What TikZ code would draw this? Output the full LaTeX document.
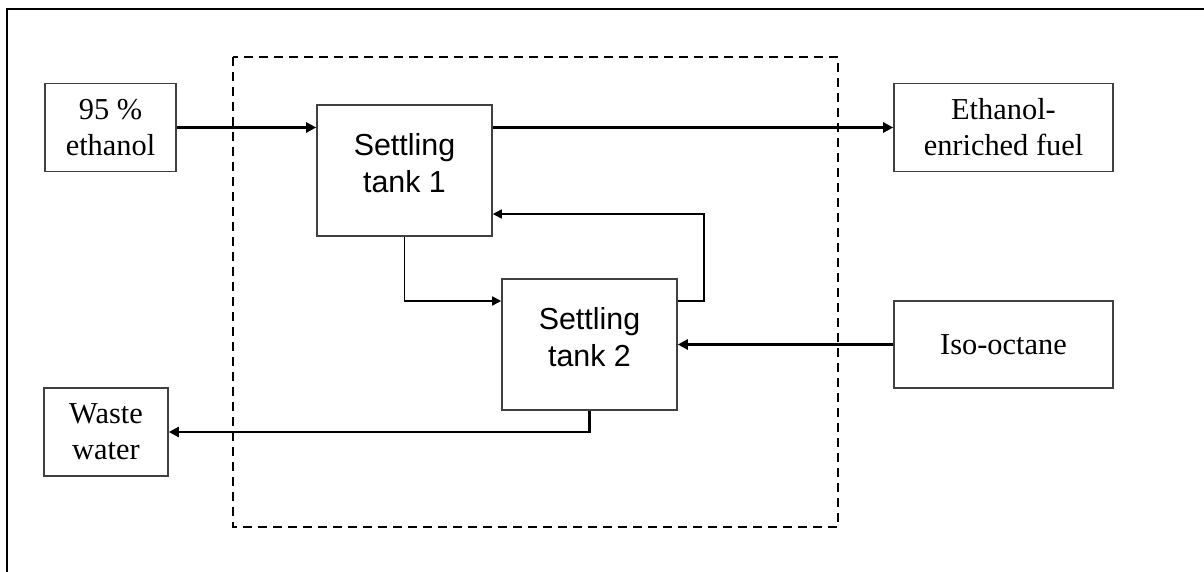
\documentclass[tikz,border=0pt]{standalone}
\usepackage{fontspec}
\setmainfont{Liberation Serif}
\setsansfont{Liberation Sans}
\usetikzlibrary{arrows.meta,calc}
\begin{document}
\begin{tikzpicture}[x=0.5pt,y=-0.5pt,
  box/.style={draw=black!75,line width=0.8pt,inner sep=0pt,align=center,
    font=\fontsize{15.2}{18}\selectfont},
  tankbox/.style={draw=black!75,line width=0.8pt,inner sep=0pt,
    minimum width=87.5pt,minimum height=65.5pt},
  tanktext/.style={align=center,inner sep=0pt,
    font=\sffamily\fontsize{15.2}{18.5}\selectfont},
  flow/.style={line width=1.2pt,-{Triangle[length=5pt,width=5pt]}},
  recycle/.style={line width=0.8pt,-{Triangle[length=4.5pt,width=4.5pt]}},
  envelope/.style={line width=0.6pt,dash pattern=on 4.5pt off 3pt}]
\useasboundingbox (0,0) rectangle (1204,572);
% frame
\draw[line width=1pt] (7,572) -- (7,9) -- (1204,9);
% process envelope
\draw[envelope] (233,57) rectangle (838,527);
% streams in and out
\node[box,minimum width=65.5pt,minimum height=44pt] (eth) at (110.5,127.5) {95 \%\\ethanol};
\node[box,minimum width=109.5pt,minimum height=44pt] (fuel) at (1003.5,127.5) {Ethanol-\\enriched fuel};
\node[box,minimum width=109.5pt,minimum height=43.5pt] (iso) at (1003.5,344.5) {Iso-octane};
\node[box,minimum width=62pt,minimum height=44pt] (waste) at (106,432) {Waste\\water};
% settling tanks
\node[tankbox] (t1) at (404.5,170.5) {};
\node[tankbox] (t2) at (589.5,344.5) {};
\node[tanktext] (t1lab) at (404.5,163) {Settling\\tank 1};
\node[tanktext] (t2lab) at (589.5,337) {Settling\\tank 2};
% junction points of the recycle loops
\coordinate (fbR) at (704,301);
\coordinate (fbT) at (704,214);
\coordinate (dn) at (404.5,301);
% connections
\draw[flow] (eth.east) -- (t1.west |- eth.east);
\draw[flow] (t1.east |- fuel.west) -- (fuel.west);
\draw[flow] (iso.west) -- (t2.east);
\draw[flow] (t2.south) |- (waste.east);
\draw[recycle] (t2.east |- fbR) -- (fbR) -- (fbT) -- (t1.east |- fbT);
\draw[recycle] (t1.south) -- (dn) -- (t2.west |- dn);
\end{tikzpicture}
\end{document}
